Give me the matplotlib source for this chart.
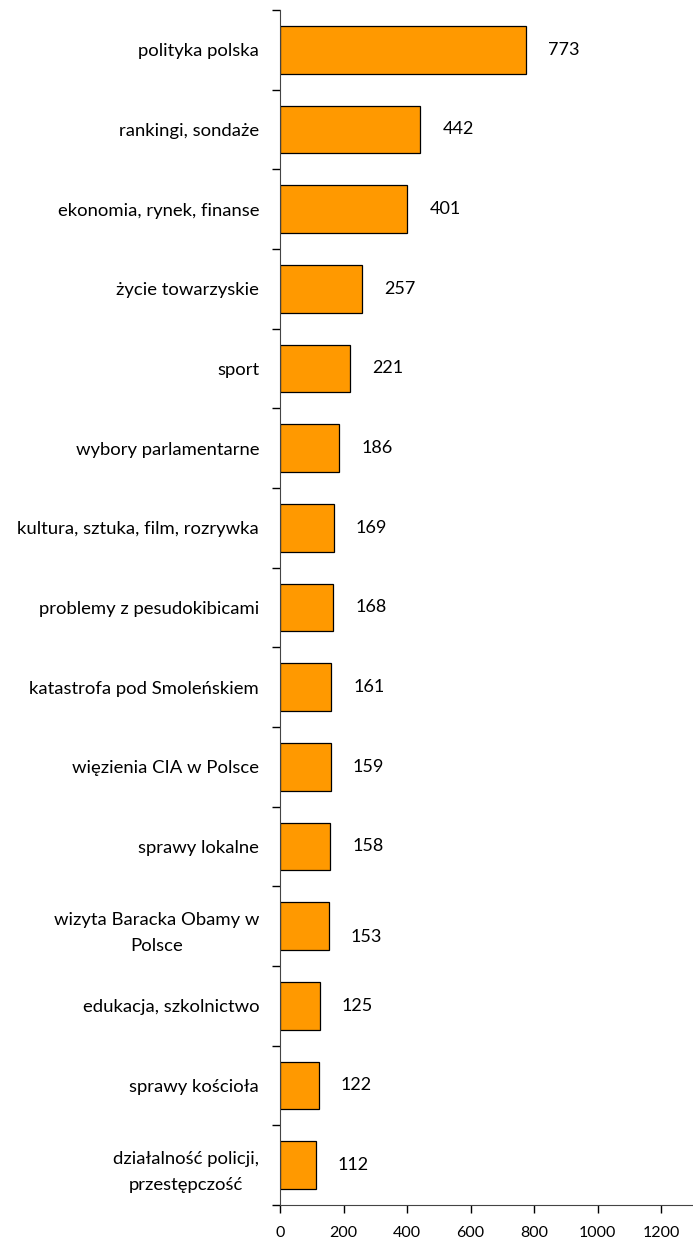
import matplotlib
matplotlib.use("Agg")
import matplotlib.pyplot as plt
import numpy as np

# categories from top to bottom, with their counts
categories = [
    "polityka polska",
    "rankingi, sondaże",
    "ekonomia, rynek, finanse",
    "życie towarzyskie",
    "sport",
    "wybory parlamentarne",
    "kultura, sztuka, film, rozrywka",
    "problemy z pesudokibicami",
    "katastrofa pod Smoleńskiem",
    "więzienia CIA w Polsce",
    "sprawy lokalne",
    "wizyta Baracka Obamy w\nPolsce",
    "edukacja, szkolnictwo",
    "sprawy kościoła",
    "działalność policji,\nprzestępczość",
]
values = [773, 442, 401, 257, 221, 186, 169, 168, 161, 159, 158, 153, 125, 122, 112]
xticks = [0, 200, 400, 600, 800, 1000, 1200]

plt.rcParams['font.family'] = ['Lato', 'DejaVu Sans']

fig = plt.figure(figsize=(6.93, 12.43), dpi=100)
ax = fig.add_axes([280 / 693, 38 / 1243, 413 / 693, 1195 / 1243])

n = len(categories)
y = np.arange(n)
ax.barh(y, values, height=0.6, color="#FF9900", edgecolor="black", linewidth=0.9)

# value labels to the right of each bar
for yi, v, cat in zip(y, values, categories):
    dy = 0.14 if cat.startswith("wizyta") else 0
    ax.annotate(str(v), (v, yi + dy), xytext=(16, 0), textcoords="offset points",
                ha="left", va="center", fontsize=13)

ax.set_ylim(n - 0.5, -0.5)
ax.set_xlim(0, 1300)

# labels at bar centres, tick marks at category boundaries
ax.set_yticks(y)
ax.set_yticklabels(categories, fontsize=13.3, ha="right", multialignment="center",
                   linespacing=1.8)
ax.tick_params(axis="y", which="major", length=0, pad=15)
ax.set_yticks(np.arange(n + 1) - 0.5, minor=True)
ax.tick_params(axis="y", which="minor", length=6, width=1, direction="out")

ax.set_xticks(xticks)
ax.tick_params(axis="x", length=6, width=1, direction="out", labelsize=11.5, pad=9)

ax.spines["top"].set_visible(False)
ax.spines["right"].set_visible(False)
ax.spines["left"].set_color("#444444")
ax.spines["bottom"].set_color("#444444")

fig.savefig("out.png", dpi=100)
